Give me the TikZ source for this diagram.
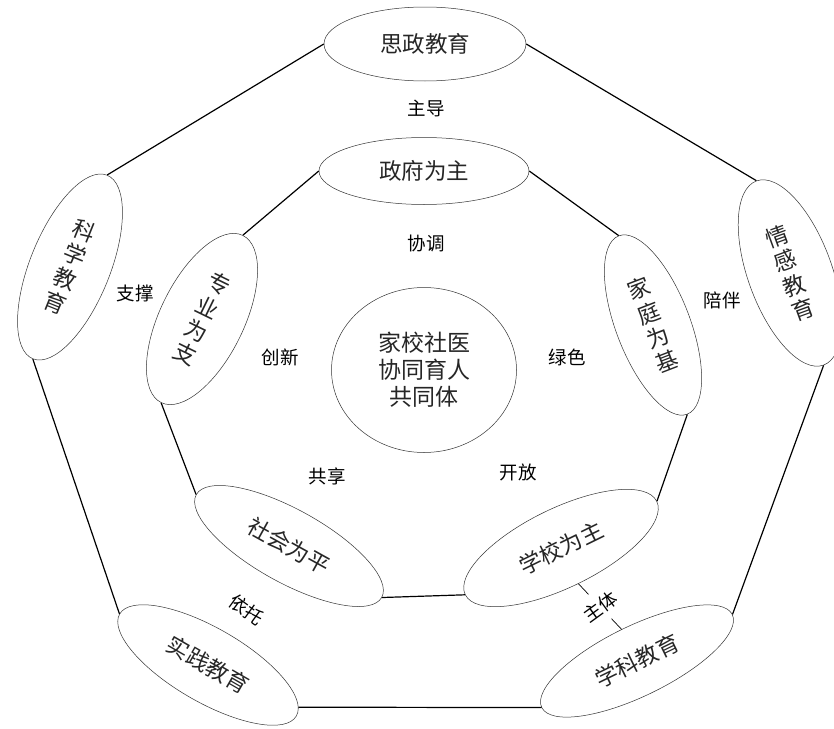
\documentclass[tikz,border=0pt]{standalone}
\usepackage{fontspec}
\newfontfamily\cjk{Noto Sans CJK SC}
\usetikzlibrary{shapes.geometric}
\begin{document}
\begin{tikzpicture}[x=1pt,y=-1pt,
  ell/.style={ellipse, draw=black!80, line width=0.5pt, inner sep=0pt, align=center,
    font=\cjk\fontsize{22.5}{26}\selectfont, text=black!85},
  side/.style={line width=1.2pt, black},
  lbl/.style={font=\cjk\fontsize{18.5}{22}\selectfont, inner sep=1pt, text=black}]
\useasboundingbox (0,0) rectangle (834,728);
% outer ring
\node[ell, minimum width=202, minimum height=74] (sz) at (425,44) {思政教育};
\node[ell, minimum width=80, minimum height=198, rotate=-22] (kx) at (70,267) {科\\学\\教\\育};
\node[ell, minimum width=84, minimum height=196, rotate=20] (qg) at (790,273) {情\\感\\教\\育};
\node[ell, minimum width=204, minimum height=74, rotate=-30] (sj) at (208,665) {实践教育};
\node[ell, minimum width=212, minimum height=70, rotate=26] (xk) at (637,661) {学科教育};
% inner ring
\node[ell, minimum width=210, minimum height=67] (zf) at (424,171) {政府为主};
\node[ell, minimum width=84, minimum height=186, rotate=-26] (zy) at (202,319) {专\\业\\为\\支};
\node[ell, minimum width=74, minimum height=191, rotate=21] (jt) at (653,325) {家\\庭\\为\\基};
\node[ell, minimum width=212, minimum height=73, rotate=-29] (sh) at (289,546) {社会为平};
\node[ell, minimum width=213, minimum height=79, rotate=26] (xx) at (561,548) {学校为主};
% centre
\node[ell, minimum width=185, minimum height=165, font=\cjk\fontsize{23}{27}\selectfont] (ct) at (424,370) {家校社医\\协同育人\\共同体};
% outer pentagon
\draw[side] (sz.west) -- (kx.north);
\draw[side] (sz.east) -- (qg.north);
\draw[side] (kx.south) -- (sj.west);
\draw[side] (sj.5) -- (xk.west);
\draw[side] (xk.east) -- (qg.south);
% inner pentagon
\draw[side] (zf.west) -- (zy.north);
\draw[side] (zf.east) -- (jt.north);
\draw[side] (zy.south) -- (sh.west);
\draw[side] (sh.east) -- (xx.west);
\draw[side] (jt.south) -- (xx.east);
% labels
\node[lbl] (l1) at (426,108) {主导};
\node[lbl] (l2) at (426,243) {协调};
\node[lbl] (l3) at (135,293) {支撑};
\node[lbl] (l4) at (280,357) {创新};
\node[lbl] (l5) at (567,357) {绿色};
\node[lbl] (l6) at (722,300) {陪伴};
\node[lbl] (l7) at (327,476) {共享};
\node[lbl] (l8) at (518,472) {开放};
\node[lbl, rotate=-36] (l9) at (247,610) {依托};
\draw[line width=0.7pt] (xx.south) -- node[lbl, fill=white, rotate=36, inner xsep=2pt, inner ysep=8pt] (l10) {主体} (xk.north);
\end{tikzpicture}
\end{document}
